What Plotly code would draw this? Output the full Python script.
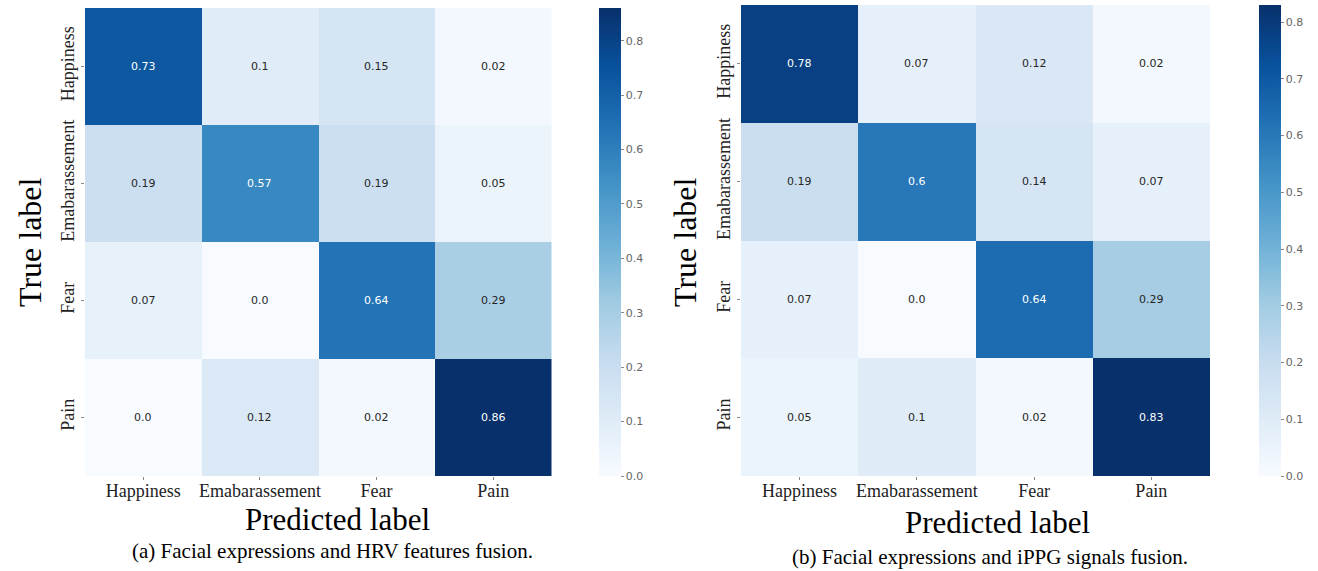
import plotly.graph_objects as go
import plotly.colors as pc

labels = ["Happiness", "Emabarassement", "Fear", "Pain"]

hrv_values = [
    [0.73, 0.10, 0.15, 0.02],
    [0.19, 0.57, 0.19, 0.05],
    [0.07, 0.00, 0.64, 0.29],
    [0.00, 0.12, 0.02, 0.86],
]
hrv_text = [
    ["0.73", "0.1", "0.15", "0.02"],
    ["0.19", "0.57", "0.19", "0.05"],
    ["0.07", "0.0", "0.64", "0.29"],
    ["0.0", "0.12", "0.02", "0.86"],
]

ippg_values = [
    [0.78, 0.07, 0.12, 0.02],
    [0.19, 0.60, 0.14, 0.07],
    [0.07, 0.00, 0.64, 0.29],
    [0.05, 0.10, 0.02, 0.83],
]
ippg_text = [
    ["0.78", "0.07", "0.12", "0.02"],
    ["0.19", "0.6", "0.14", "0.07"],
    ["0.07", "0.0", "0.64", "0.29"],
    ["0.05", "0.1", "0.02", "0.83"],
]

cbar_ticks = [0.0, 0.1, 0.2, 0.3, 0.4, 0.5, 0.6, 0.7, 0.8]
captions = ["(a) Facial expressions and HRV features fusion.",
            "(b) Facial expressions and iPPG signals fusion."]

W, H = 1318, 571
blues = pc.sequential.Blues
scale = [[i / (len(blues) - 1), c] for i, c in enumerate(blues)]

def px_x(v):
    return v / W

def px_y(v):
    return 1 - v / H

panels = [
    dict(vals=hrv_values, txt=hrv_text, cbx=599, cby0=8,
         ax="x", ay="y", ylab_x=30, xlab_y=519, cap_x=332, cap_y=551, xlab_x=337),
    dict(vals=ippg_values, txt=ippg_text, cbx=1259, cby0=5,
         ax="x2", ay="y2", ylab_x=685, xlab_y=522, cap_x=990, cap_y=557, xlab_x=997),
]

fig = go.Figure()
annotations = []
for i, p in enumerate(panels):
    zmax = max(max(r) for r in p["vals"])
    fig.add_trace(go.Heatmap(
        z=p["vals"], x=labels, y=labels, xaxis=p["ax"], yaxis=p["ay"],
        colorscale=scale, zmin=0.0, zmax=zmax, xgap=0, ygap=0,
        hoverinfo="skip",
        colorbar=dict(
            x=px_x(p["cbx"]), xanchor="left", xref="paper",
            y=px_y(476), yanchor="bottom", len=(476 - p["cby0"]) / H, lenmode="fraction",
            thickness=22, thicknessmode="pixels", outlinewidth=0, xpad=0, ypad=0,
            tickvals=cbar_ticks, ticktext=["%.1f" % t for t in cbar_ticks],
            ticks="outside", ticklen=3, tickcolor="#888",
            tickfont=dict(family="DejaVu Sans", size=11, color="#666"),
        ),
    ))
    for r, row in enumerate(p["vals"]):
        for c, v in enumerate(row):
            annotations.append(dict(
                x=labels[c], y=labels[r], xref=p["ax"], yref=p["ay"],
                text=p["txt"][r][c], showarrow=False,
                font=dict(family="DejaVu Sans", size=11,
                          color="white" if v >= 0.5 else "#262626"),
            ))
    annotations.append(dict(x=px_x(p["ylab_x"]), y=px_y(242), xref="paper", yref="paper",
                            xanchor="center", yanchor="middle",
                            text="True label", textangle=-90, showarrow=False,
                            font=dict(family="Liberation Serif", size=32, color="black")))
    annotations.append(dict(x=px_x(p["xlab_x"]), y=px_y(p["xlab_y"]), xref="paper", yref="paper",
                            xanchor="center", yanchor="middle",
                            text="Predicted label", showarrow=False,
                            font=dict(family="Liberation Serif", size=31, color="black")))
    annotations.append(dict(x=px_x(p["cap_x"]), y=px_y(p["cap_y"]), xref="paper", yref="paper",
                            xanchor="center", yanchor="middle",
                            text=captions[i], showarrow=False,
                            font=dict(family="Liberation Serif", size=21, color="black")))

axis_common = dict(showgrid=False, zeroline=False, showline=False,
                   ticks="outside", ticklen=3, tickcolor="#888",
                   tickfont=dict(family="Liberation Serif", size=18, color="#222"))

fig.update_layout(
    width=W, height=H,
    margin=dict(l=0, r=0, t=0, b=0),
    paper_bgcolor="white", plot_bgcolor="white",
    showlegend=False,
    annotations=annotations,
    xaxis=dict(domain=[px_x(85), px_x(551.5)], anchor="y", categoryorder="array",
               categoryarray=labels, ticklabelstandoff=-5, **axis_common),
    yaxis=dict(domain=[px_y(476), px_y(8)], anchor="x", categoryorder="array",
               categoryarray=labels, autorange="reversed", tickangle=-90, **axis_common),
    xaxis2=dict(domain=[px_x(741), px_x(1210)], anchor="y2", categoryorder="array",
                categoryarray=labels, ticklabelstandoff=-5, **axis_common),
    yaxis2=dict(domain=[px_y(476), px_y(5)], anchor="x2", categoryorder="array",
                categoryarray=labels, autorange="reversed", tickangle=-90, **axis_common),
)

fig.write_html("out.html", config={"displayModeBar": False},
               post_script="document.body.style.margin='0';")
